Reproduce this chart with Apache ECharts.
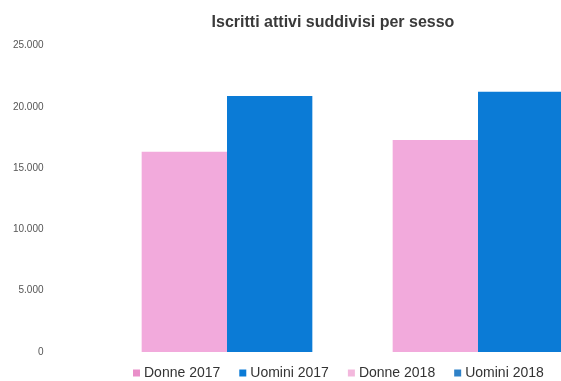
<!DOCTYPE html>
<html>
<head>
<meta charset="utf-8">
<script src="https://cdn.jsdelivr.net/npm/echarts@6/dist/echarts.min.js"></script>
<style>
  html, body { margin: 0; padding: 0; background: #fff; }
  #chart { width: 561px; height: 381px; }
</style>
</head>
<body>
<div id="chart"></div>
<script>
// Iscritti attivi per anno e sesso
const anni = ['2017', '2018'];
const donne2017 = [16350, null];
const uomini2017 = [20900, null];
const donne2018 = [null, 17300];
const uomini2018 = [null, 21250];
const nomiSerie = ['Donne 2017', 'Uomini 2017', 'Donne 2018', 'Uomini 2018'];
const yTicks = [0, 5000, 10000, 15000, 20000, 25000];

const ROSA = '#f2aadc';
const BLU = '#0b7bd6';

const fmt = v => v === 0 ? '0' : v.toLocaleString('it-IT').replace(/\u202f|\s/g, '.');

const chart = echarts.init(document.getElementById('chart'), null, { renderer: 'canvas' });

function serie(nome, dati, colore, gruppo) {
  return {
    name: nome,
    type: 'bar',
    stack: gruppo,
    data: dati,
    barGap: '0%',
    barCategoryGap: '32%',
    itemStyle: { color: colore },
    emphasis: { disabled: true }
  };
}

chart.setOption({
  animation: false,
  title: {
    text: 'Iscritti attivi suddivisi per sesso',
    left: 328,
    textAlign: 'center',
    top: 10,
    textStyle: { fontFamily: 'Liberation Sans, Arial, sans-serif', fontSize: 16, fontWeight: 'bold', color: '#3a3a3a' }
  },
  legend: {
    left: 133,
    top: 366,
    padding: 0,
    icon: 'rect',
    itemWidth: 7,
    itemHeight: 7,
    itemGap: 19,
    textStyle: { fontFamily: 'Liberation Sans, Arial, sans-serif', fontSize: 14, color: '#333', padding: [0, 0, 0, -1] },
    data: [
      { name: nomiSerie[0], itemStyle: { color: '#e98fc9' } },
      { name: nomiSerie[1], itemStyle: { color: BLU } },
      { name: nomiSerie[2], itemStyle: { color: '#f3b8dd' } },
      { name: nomiSerie[3], itemStyle: { color: '#2f82c8' } }
    ]
  },
  // the plot area runs past the right edge, so the last bar is clipped
  grid: { left: 101.5, width: 502, top: 45.7, bottom: 29, outerBoundsMode: 'none', containLabel: false },
  xAxis: {
    type: 'category',
    data: anni,
    axisLine: { show: false },
    axisTick: { show: false },
    axisLabel: { show: false }
  },
  yAxis: {
    type: 'value',
    min: yTicks[0],
    max: yTicks[yTicks.length - 1],
    interval: yTicks[1] - yTicks[0],
    splitLine: { show: false },
    axisLine: { show: false },
    axisTick: { show: false },
    axisLabel: {
      margin: 58,
      fontFamily: 'Liberation Sans, Arial, sans-serif',
      fontSize: 10,
      color: '#555',
      formatter: v => fmt(v)
    }
  },
  series: [
    serie(nomiSerie[0], donne2017, ROSA, 'donne'),
    serie(nomiSerie[1], uomini2017, BLU, 'uomini'),
    serie(nomiSerie[2], donne2018, ROSA, 'donne'),
    serie(nomiSerie[3], uomini2018, BLU, 'uomini')
  ]
});
</script>
</body>
</html>
